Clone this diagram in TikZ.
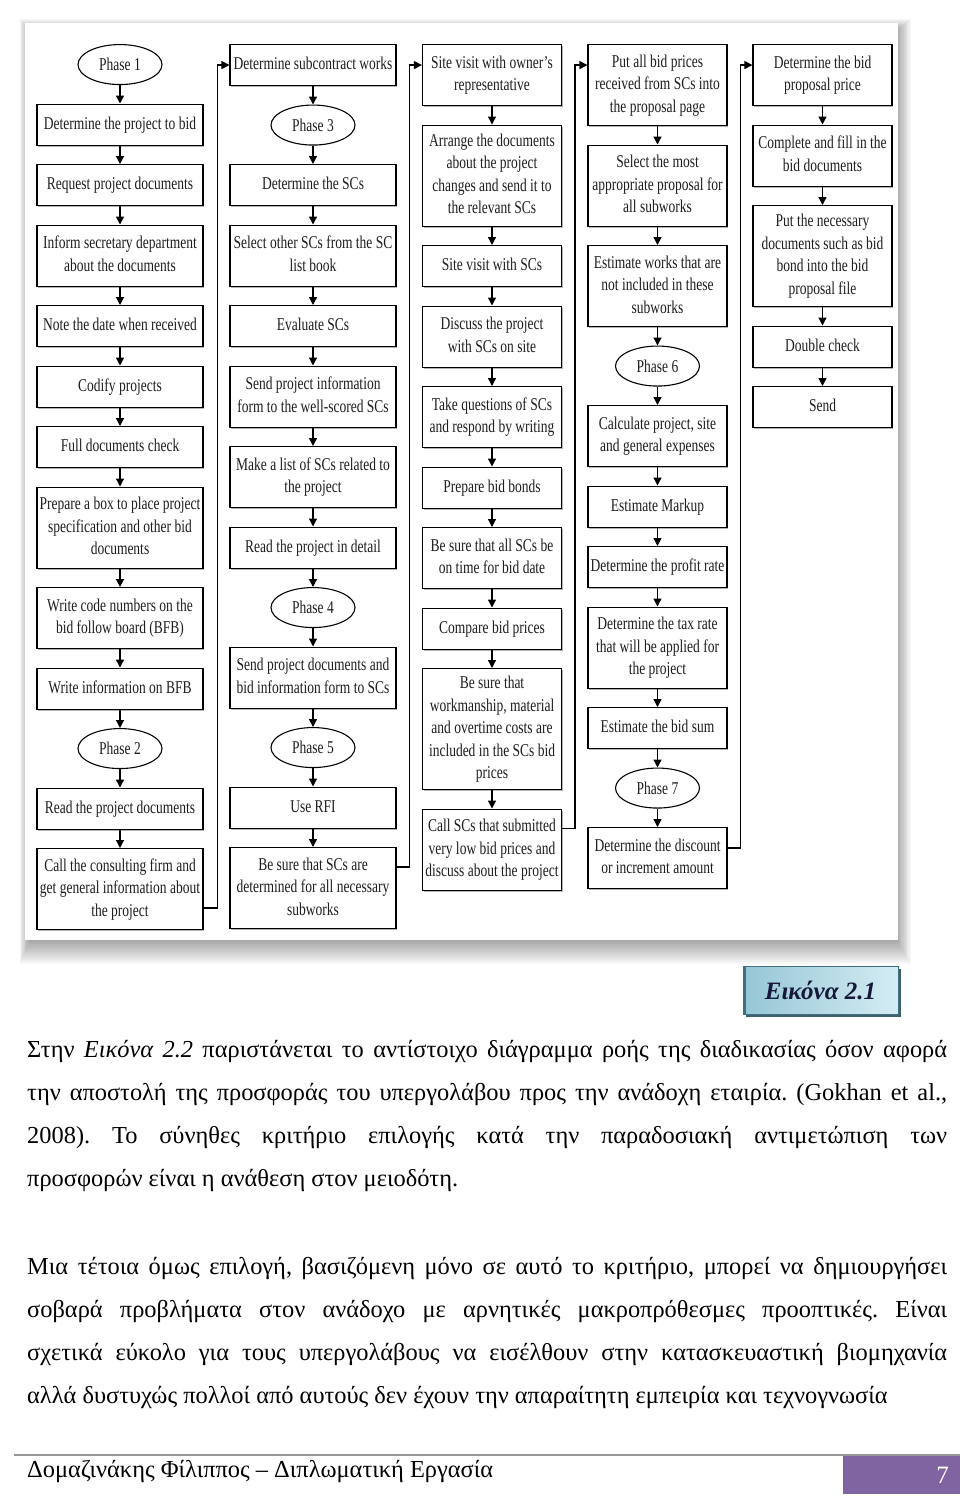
\documentclass[tikz,border=0pt]{standalone}
\usepackage{fontspec}
\setmainfont{Liberation Serif}
\newfontfamily\chartfont{Liberation Serif}[FakeStretch=0.75]
\usepackage{tikz}
\usetikzlibrary{shapes.geometric, arrows.meta, positioning, shadows}
\definecolor{cInk}{RGB}{30,30,30}
\definecolor{cShade}{RGB}{120,120,120}
\definecolor{cCapLeft}{RGB}{150,198,214}
\definecolor{cCapRight}{RGB}{212,236,243}
\definecolor{cCapEdge}{RGB}{62,112,130}
\definecolor{cCapText}{RGB}{22,24,58}
\definecolor{cFootLine}{RGB}{150,150,150}
\definecolor{cFootBox}{RGB}{128,99,161}
\tikzset{
	stepbox/.style  ={rectangle, draw=black, line width=1.1pt, fill=white, text=cInk, align=flush center, inner xsep=1.5pt, inner ysep=1pt,
		font=\chartfont\fontsize{18}{22.5}\selectfont, execute at begin node=\strut, execute at end node={\strut\par\vskip6pt},
		drop shadow={shadow xshift=1.2pt, shadow yshift=-1.8pt, opacity=0.55, fill=cShade}},
	widecol/.style  ={text width=163pt},
	slimcol/.style  ={text width=136pt},
	nlines/.style   ={minimum height={21pt+20pt*#1}},
	phaseoval/.style={ellipse, draw=black, line width=1.1pt, fill=white, text=cInk, minimum width=84pt, minimum height=40pt, inner sep=0pt,
		font=\chartfont\fontsize{18}{22.5}\selectfont},
	nextarrow/.style={-{Triangle[length=8pt, width=8pt]}, line width=1.3pt},
	% page text around the figure
	bodytext/.style ={text width=920pt, align=justify, inner sep=0pt, font=\fontsize{24.4}{43.3}\selectfont,
		execute at begin node={\parindent=0pt\tolerance=10000\hyphenpenalty=10000\frenchspacing\relax}},
	capbox/.style   ={rectangle, minimum width=155pt, minimum height=48pt, left color=cCapLeft, right color=cCapRight, draw=cCapEdge, line width=0.8pt,
		text=cCapText, font=\fontsize{25}{30}\selectfont\bfseries\itshape, drop shadow={shadow xshift=2.5pt, shadow yshift=-2.5pt, opacity=0.9, fill=cCapEdge!70!black}},
	pagebox/.style  ={rectangle, fill=cFootBox, text=white, text width=95pt, align=right, inner xsep=11pt, minimum height=38pt, font=\fontsize{25}{30}\selectfont},
}
\begin{document}
\begin{tikzpicture}[x=1pt, y=-1pt, node distance=18.4pt]
	\useasboundingbox (0,0) rectangle (960,1500);
	\fill[white] (0,0) rectangle (960,1500);
	% card with soft shadow
	\foreach \k in {1,...,14}
		\fill[black, opacity=0.03] (31-0.8*\k, 33-1.0*\k) rectangle (894+1.2*\k, 936+2.0*\k);
	\fill[white] (25,23) rectangle (898,940);

	\node[phaseoval, anchor=north] (ph1) at (120,44) {Phase 1};
	\node[stepbox, widecol, nlines=1, below=of ph1] (a1) {Determine the project to bid};
	\node[stepbox, widecol, nlines=1, below=of a1] (a2) {Request project documents};
	\node[stepbox, widecol, nlines=2, below=of a2] (a3) {Inform secretary department\\about the documents};
	\node[stepbox, widecol, nlines=1, below=of a3] (a4) {Note the date when received};
	\node[stepbox, widecol, nlines=1, below=of a4] (a5) {Codify projects};
	\node[stepbox, widecol, nlines=1, below=of a5] (a6) {Full documents check};
	\node[stepbox, widecol, nlines=3, below=of a6] (a7) {Prepare a box to place project\\specification and other bid\\documents};
	\node[stepbox, widecol, nlines=2, below=of a7] (a8) {Write code numbers on the\\bid follow board (BFB)};
	\node[stepbox, widecol, nlines=1, below=of a8] (a9) {Write information on BFB};
	\node[phaseoval, below=of a9] (ph2) {Phase 2};
	\node[stepbox, widecol, nlines=1, below=of ph2] (a10) {Read the project documents};
	\node[stepbox, widecol, nlines=3, below=of a10] (a11) {Call the consulting firm and\\get general information about\\the project};

	\node[stepbox, widecol, nlines=1, anchor=north] (b1) at (313,44) {Determine subcontract works};
	\node[phaseoval, below=of b1] (ph3) {Phase 3};
	\node[stepbox, widecol, nlines=1, below=of ph3] (b2) {Determine the SCs};
	\node[stepbox, widecol, nlines=2, below=of b2] (b3) {Select other SCs from the SC\\list book};
	\node[stepbox, widecol, nlines=1, below=of b3] (b4) {Evaluate SCs};
	\node[stepbox, widecol, nlines=2, below=of b4] (b5) {Send project information\\form to the well-scored SCs};
	\node[stepbox, widecol, nlines=2, below=of b5] (b6) {Make a list of SCs related to\\the project};
	\node[stepbox, widecol, nlines=1, below=of b6] (b7) {Read the project in detail};
	\node[phaseoval, below=of b7] (ph4) {Phase 4};
	\node[stepbox, widecol, nlines=2, below=of ph4] (b8) {Send project documents and\\bid information form to SCs};
	\node[phaseoval, below=of b8] (ph5) {Phase 5};
	\node[stepbox, widecol, nlines=1, below=of ph5] (b9) {Use RFI};
	\node[stepbox, widecol, nlines=3, below=of b9] (b10) {Be sure that SCs are\\determined for all necessary\\subworks};

	\node[stepbox, slimcol, nlines=2, anchor=north] (c1) at (492,44) {Site visit with owner’s\\representative};
	\node[stepbox, slimcol, nlines=4, below=of c1] (c2) {Arrange the documents\\about the project\\changes and send it to\\the relevant SCs};
	\node[stepbox, slimcol, nlines=1, below=of c2] (c3) {Site visit with SCs};
	\node[stepbox, slimcol, nlines=2, below=of c3] (c4) {Discuss the project\\with SCs on site};
	\node[stepbox, slimcol, nlines=2, below=of c4] (c5) {Take questions of SCs\\and respond by writing};
	\node[stepbox, slimcol, nlines=1, below=of c5] (c6) {Prepare bid bonds};
	\node[stepbox, slimcol, nlines=2, below=of c6] (c7) {Be sure that all SCs be\\on time for bid date};
	\node[stepbox, slimcol, nlines=1, below=of c7] (c8) {Compare bid prices};
	\node[stepbox, slimcol, nlines=5, below=of c8] (c9) {Be sure that\\workmanship, material\\and overtime costs are\\included in the SCs bid\\prices};
	\node[stepbox, slimcol, nlines=3, below=of c9] (c10) {Call SCs that submitted\\very low bid prices and\\discuss about the project};

	\node[stepbox, slimcol, nlines=3, anchor=north] (d1) at (657.5,44) {Put all bid prices\\received from SCs into\\the proposal page};
	\node[stepbox, slimcol, nlines=3, below=of d1] (d2) {Select the most\\appropriate proposal for\\all subworks};
	\node[stepbox, slimcol, nlines=3, below=of d2] (d3) {Estimate works that are\\not included in these\\subworks};
	\node[phaseoval, below=of d3] (ph6) {Phase 6};
	\node[stepbox, slimcol, nlines=2, below=of ph6] (d4) {Calculate project, site\\and general expenses};
	\node[stepbox, slimcol, nlines=1, below=of d4] (d5) {Estimate Markup};
	\node[stepbox, slimcol, nlines=1, below=of d5] (d6) {Determine the profit rate};
	\node[stepbox, slimcol, nlines=3, below=of d6] (d7) {Determine the tax rate\\that will be applied for\\the project};
	\node[stepbox, slimcol, nlines=1, below=of d7] (d8) {Estimate the bid sum};
	\node[phaseoval, below=of d8] (ph7) {Phase 7};
	\node[stepbox, slimcol, nlines=2, below=of ph7] (d9) {Determine the discount\\or increment amount};

	\node[stepbox, slimcol, nlines=2, anchor=north] (e1) at (822.5,44) {Determine the bid\\proposal price};
	\node[stepbox, slimcol, nlines=2, below=of e1] (e2) {Complete and fill in the\\bid documents};
	\node[stepbox, slimcol, nlines=4, below=of e2] (e3) {Put the necessary\\documents such as bid\\bond into the bid\\proposal file};
	\node[stepbox, slimcol, nlines=1, below=of e3] (e4) {Double check};
	\node[stepbox, slimcol, nlines=1, below=of e4] (e5) {Send};

	\foreach \s/\t in {ph1/a1, a1/a2, a2/a3, a3/a4, a4/a5, a5/a6, a6/a7, a7/a8, a8/a9, a9/ph2, ph2/a10, a10/a11,
			b1/ph3, ph3/b2, b2/b3, b3/b4, b4/b5, b5/b6, b6/b7, b7/ph4, ph4/b8, b8/ph5, ph5/b9, b9/b10,
			c1/c2, c2/c3, c3/c4, c4/c5, c5/c6, c6/c7, c7/c8, c8/c9, c9/c10,
			d1/d2, d2/d3, d3/ph6, ph6/d4, d4/d5, d5/d6, d6/d7, d7/d8, d8/ph7, ph7/d9,
			e1/e2, e2/e3, e3/e4, e4/e5}
		\draw[nextarrow] (\s) -- (\t);
	\draw[nextarrow] ([yshift=-19pt]a11.east) -- ++(14pt,0) |- (b1.west);
	\draw[nextarrow] ([yshift=21pt]b10.east) -- ++(13pt,0) |- (c1.west |- b1.west);
	\draw[nextarrow] ([yshift=21pt]c10.east) -- ++(13pt,0) |- (d1.west |- b1.west);
	\draw[nextarrow] ([yshift=10pt]d9.east) -- ++(13pt,0) |- (e1.west |- b1.west);

	\node[capbox] (cap) at (820.5,990.5) {Εικόνα 2.1};
	\draw[cCapEdge, line width=3pt] ([xshift=1.5pt]cap.north west) -- ([xshift=1.5pt]cap.south west);

	\node[bodytext, anchor=base west] (para1) at (27,1057) {Στην \textit{Εικόνα 2.2} παριστάνεται το αντίστοιχο διάγραμμα ροής της διαδικασίας όσον αφορά\linebreak
		την αποστολή της προσφοράς του υπεργολάβου προς την ανάδοχη εταιρία. (Gokhan et al.,\linebreak
		2008). Το σύνηθες κριτήριο επιλογής κατά την παραδοσιακή αντιμετώπιση των\linebreak
		προσφορών είναι η ανάθεση στον μειοδότη.};
	\node[bodytext, anchor=base west] (para2) at (27,1274) {\parfillskip=0pt\relax Μια τέτοια όμως επιλογή, βασιζόμενη μόνο σε αυτό το κριτήριο, μπορεί να δημιουργήσει\linebreak
		σοβαρά προβλήματα στον ανάδοχο με αρνητικές μακροπρόθεσμες προοπτικές. Είναι\linebreak
		σχετικά εύκολο για τους υπεργολάβους να εισέλθουν στην κατασκευαστική βιομηχανία\linebreak
		αλλά δυστυχώς πολλοί από αυτούς δεν έχουν την απαραίτητη εμπειρία και τεχνογνωσία};

	\draw[cFootLine, line width=1.5pt] (14,1455) -- (960,1455);
	\node[pagebox, anchor=north east] (pageno) at (960,1456) {7};
	\node[anchor=base west, inner sep=0pt, font=\fontsize{24.4}{30}\selectfont] (footer) at (27,1477) {Δομαζινάκης Φίλιππος – Διπλωματική Εργασία};
\end{tikzpicture}
\end{document}
